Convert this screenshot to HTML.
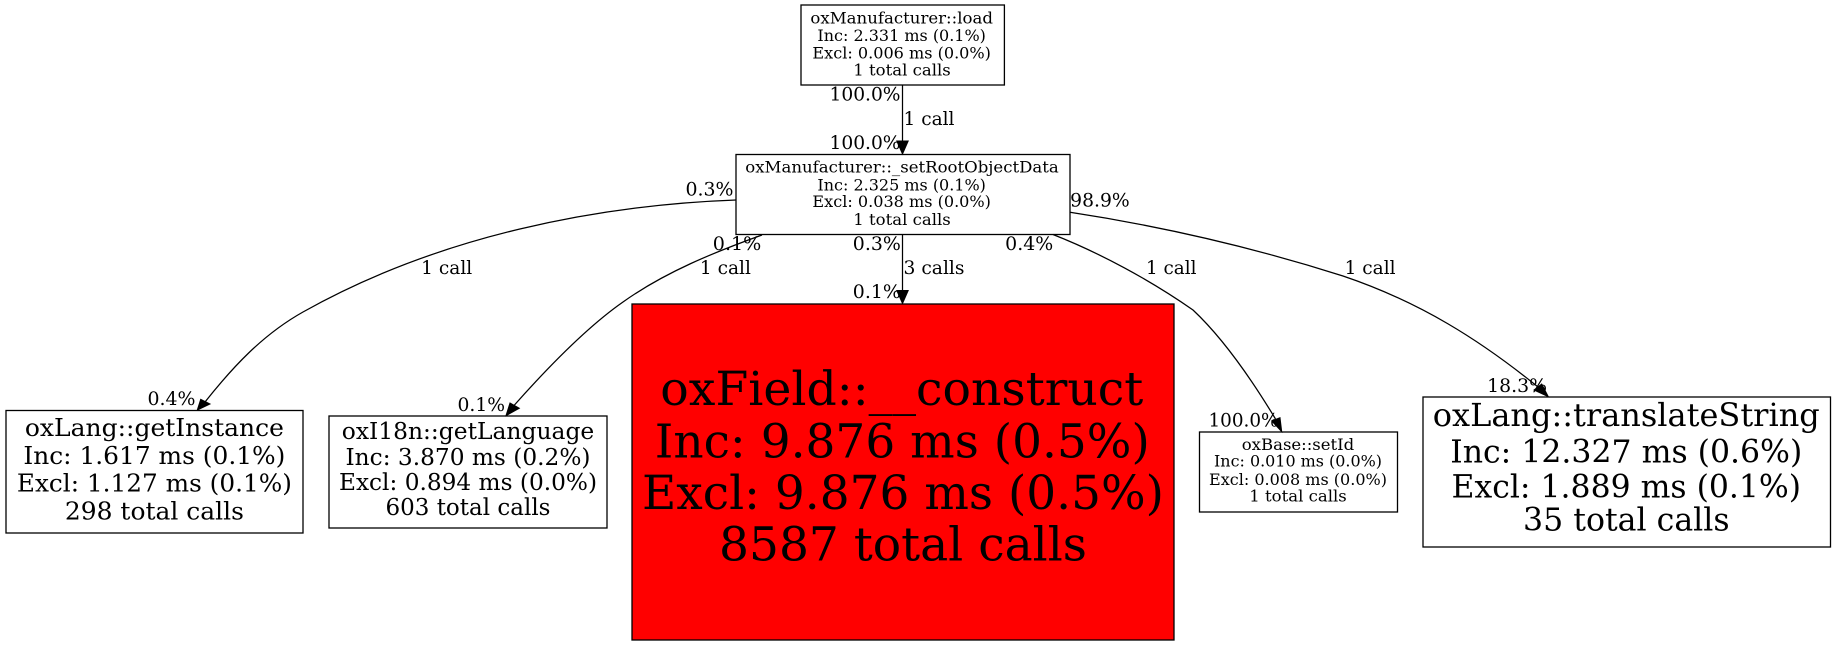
<!DOCTYPE html>
<html><head><meta charset="utf-8"><style>
html,body{margin:0;padding:0;background:#fff;width:1836px;height:645px;overflow:hidden}
svg{display:block}
text{font-family:"DejaVu Serif","Liberation Serif",serif;fill:#000}
.m{text-anchor:middle}
.e{font-size:18.3px}
.s{font-size:15.85px}
rect{fill:#fff;stroke:#000;stroke-width:1.3}
path.l{fill:none;stroke:#000;stroke-width:1.25}
polygon{fill:#000;stroke:#000;stroke-width:1}
</style></head><body>
<svg width="1836" height="645" viewBox="0 0 1836 645" xmlns="http://www.w3.org/2000/svg">
<rect x="801" y="5" width="203.4" height="80"/>
<rect x="736" y="154.5" width="334" height="80"/>
<rect x="632" y="304" width="542" height="336" style="fill:#f00"/>
<rect x="6" y="410.5" width="297" height="122.5"/>
<rect x="329" y="416" width="278" height="112"/>
<rect x="1199.5" y="432" width="198" height="80"/>
<rect x="1423" y="397" width="407.5" height="150"/>

<path class="l" d="M902.5 85V141"/><polygon points="896.8,141 908.2,141 902.5,154"/>
<path class="l" d="M902.5 234.5V290.5"/><polygon points="896.8,290.5 908.2,290.5 902.5,303.5"/>
<path class="l" d="M736 200C600 205 440 235 303 312C262 335 232 368 205 402"/><polygon points="197.3,410 200.7,399.3 210,404"/>
<path class="l" d="M762 235C715 252 665 272 623 302C590 325 550 365 514 405.5"/><polygon points="506,415.7 510,403 519.3,408.3"/>
<path class="l" d="M1053 234.5C1100 253 1150 280 1193 310C1225 340 1255 385 1275.5 419"/><polygon points="1281.7,431.7 1271.7,421 1280,417.7"/>
<path class="l" d="M1070 212.3C1160 226 1255 248 1343 276C1420 302 1480 340 1538 387"/><polygon points="1548.3,396.7 1534,390 1541.7,384"/>

<g class="s">
<text class="m" x="901.7" y="23.3" textLength="182.5" lengthAdjust="spacingAndGlyphs">oxManufacturer::load</text>
<text class="m" x="901.7" y="41" textLength="168.5" lengthAdjust="spacingAndGlyphs">Inc: 2.331 ms (0.1%)</text>
<text class="m" x="901.7" y="58.3" textLength="178.5" lengthAdjust="spacingAndGlyphs">Excl: 0.006 ms (0.0%)</text>
<text class="m" x="902" y="75.3" textLength="97.5" lengthAdjust="spacingAndGlyphs">1 total calls</text>
<text class="m" x="902" y="172.7" textLength="313.5" lengthAdjust="spacingAndGlyphs">oxManufacturer::_setRootObjectData</text>
<text class="m" x="901.7" y="190.3" textLength="168.5" lengthAdjust="spacingAndGlyphs">Inc: 2.325 ms (0.1%)</text>
<text class="m" x="901.7" y="207" textLength="178.5" lengthAdjust="spacingAndGlyphs">Excl: 0.038 ms (0.0%)</text>
<text class="m" x="902" y="225" textLength="97.5" lengthAdjust="spacingAndGlyphs">1 total calls</text>
<text class="m" x="1298" y="450" textLength="112.5" lengthAdjust="spacingAndGlyphs">oxBase::setId</text>
<text class="m" x="1298" y="466.7" textLength="168" lengthAdjust="spacingAndGlyphs">Inc: 0.010 ms (0.0%)</text>
<text class="m" x="1298" y="485" textLength="178" lengthAdjust="spacingAndGlyphs">Excl: 0.008 ms (0.0%)</text>
<text class="m" x="1298" y="501.7" textLength="97.5" lengthAdjust="spacingAndGlyphs">1 total calls</text>
</g>

<g style="font-size:24.7px">
<text class="m" x="154.4" y="436" textLength="259" lengthAdjust="spacingAndGlyphs">oxLang::getInstance</text>
<text class="m" x="154.4" y="464" textLength="262" lengthAdjust="spacingAndGlyphs">Inc: 1.617 ms (0.1%)</text>
<text class="m" x="154.4" y="491.7" textLength="275" lengthAdjust="spacingAndGlyphs">Excl: 1.127 ms (0.1%)</text>
<text class="m" x="154.4" y="519.3" textLength="179" lengthAdjust="spacingAndGlyphs">298 total calls</text>
</g>
<g style="font-size:23px">
<text class="m" x="468" y="439" textLength="252.5" lengthAdjust="spacingAndGlyphs">oxI18n::getLanguage</text>
<text class="m" x="468" y="465" textLength="245" lengthAdjust="spacingAndGlyphs">Inc: 3.870 ms (0.2%)</text>
<text class="m" x="468" y="490" textLength="258" lengthAdjust="spacingAndGlyphs">Excl: 0.894 ms (0.0%)</text>
<text class="m" x="468" y="515" textLength="165" lengthAdjust="spacingAndGlyphs">603 total calls</text>
</g>
<g style="font-size:46.5px">
<text class="m" x="901.8" y="405" textLength="483" lengthAdjust="spacingAndGlyphs">oxField::__construct</text>
<text class="m" x="902.3" y="457.3" textLength="495" lengthAdjust="spacingAndGlyphs">Inc: 9.876 ms (0.5%)</text>
<text class="m" x="903" y="509" textLength="522" lengthAdjust="spacingAndGlyphs">Excl: 9.876 ms (0.5%)</text>
<text class="m" x="903" y="560.7" textLength="368" lengthAdjust="spacingAndGlyphs">8587 total calls</text>
</g>
<g style="font-size:31.4px">
<text class="m" x="1626.3" y="426" textLength="387" lengthAdjust="spacingAndGlyphs">oxLang::translateString</text>
<text class="m" x="1626.3" y="462.7" textLength="352" lengthAdjust="spacingAndGlyphs">Inc: 12.327 ms (0.6%)</text>
<text class="m" x="1626.3" y="497.3" textLength="349.5" lengthAdjust="spacingAndGlyphs">Excl: 1.889 ms (0.1%)</text>
<text class="m" x="1626.3" y="530.7" textLength="206.5" lengthAdjust="spacingAndGlyphs">35 total calls</text>
</g>

<g class="e">
<text x="829.5" y="100.7" textLength="71" lengthAdjust="spacingAndGlyphs">100.0%</text>
<text x="903.5" y="125" textLength="51" lengthAdjust="spacingAndGlyphs">1 call</text>
<text x="829.5" y="149" textLength="71" lengthAdjust="spacingAndGlyphs">100.0%</text>
<text x="685.5" y="195.3" textLength="48" lengthAdjust="spacingAndGlyphs">0.3%</text>
<text x="1070.2" y="206.7" textLength="59.5" lengthAdjust="spacingAndGlyphs">98.9%</text>
<text x="712.8" y="250" textLength="48.5" lengthAdjust="spacingAndGlyphs">0.1%</text>
<text x="852.8" y="250" textLength="48" lengthAdjust="spacingAndGlyphs">0.3%</text>
<text x="1005.2" y="250" textLength="48" lengthAdjust="spacingAndGlyphs">0.4%</text>
<text x="421.2" y="274" textLength="51" lengthAdjust="spacingAndGlyphs">1 call</text>
<text x="699.9" y="274" textLength="51" lengthAdjust="spacingAndGlyphs">1 call</text>
<text x="903.5" y="274" textLength="61" lengthAdjust="spacingAndGlyphs">3 calls</text>
<text x="1146" y="274" textLength="50.5" lengthAdjust="spacingAndGlyphs">1 call</text>
<text x="1344.6" y="274" textLength="51" lengthAdjust="spacingAndGlyphs">1 call</text>
<text x="852.8" y="298" textLength="48" lengthAdjust="spacingAndGlyphs">0.1%</text>
<text x="147.5" y="405" textLength="48" lengthAdjust="spacingAndGlyphs">0.4%</text>
<text x="457.5" y="411" textLength="47.5" lengthAdjust="spacingAndGlyphs">0.1%</text>
<text x="1208.5" y="426.7" textLength="70" lengthAdjust="spacingAndGlyphs">100.0%</text>
<text x="1487.2" y="392" textLength="59.8" lengthAdjust="spacingAndGlyphs">18.3%</text>
</g>
</svg>
</body></html>
